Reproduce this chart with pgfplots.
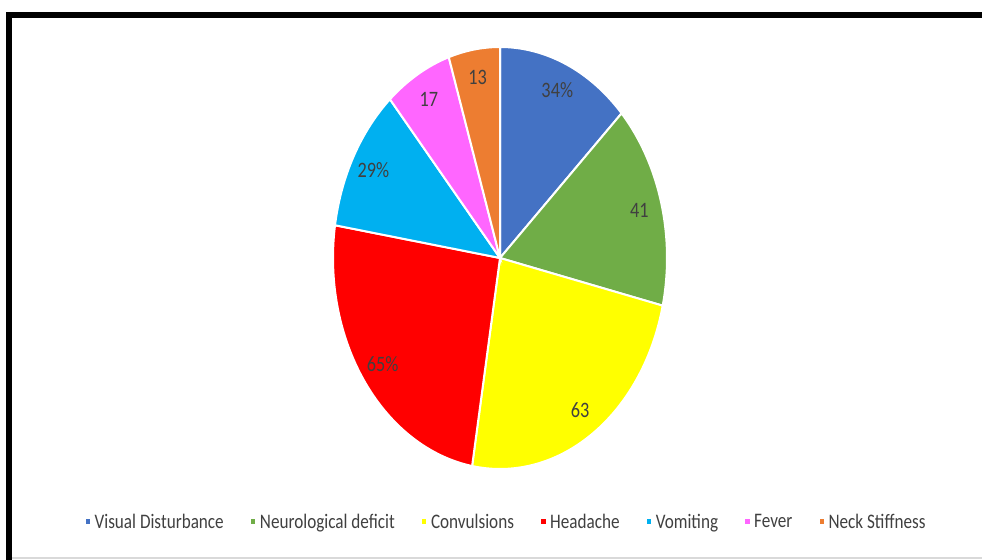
\documentclass[border=0pt]{standalone}
\usepackage{fontspec}
\setmainfont{Carlito}
\newfontfamily\chartfont[FakeStretch=0.83]{Carlito}
\usepackage{pgfplots}
\usepackage{pgfplotstable}
\pgfplotsset{compat=1.18}
\definecolor{cVis}{HTML}{4472C4}
\definecolor{cNeu}{HTML}{70AD47}
\definecolor{cCon}{HTML}{FFFF00}
\definecolor{cHea}{HTML}{FF0000}
\definecolor{cVom}{HTML}{00B0F0}
\definecolor{cFev}{HTML}{FF66FF}
\definecolor{cNec}{HTML}{ED7D31}
\definecolor{textgray}{HTML}{404040}
\pgfplotstableread[col sep=comma]{
name,value,label,color
Visual Disturbance,34,34\%,cVis
Neurological deficit,41,41,cNeu
Convulsions,63,63,cCon
Headache,65,65\%,cHea
Vomiting,29,29\%,cVom
Fever,17,17,cFev
Neck Stiffness,13,13,cNec
}\piedata
\begin{document}
\begin{tikzpicture}
\begin{axis}[
  scale only axis, width=736.5pt, height=420pt,
  xmin=0, xmax=982, ymin=0, ymax=560,
  hide axis, clip=false,
  legend columns=7,
  legend cell align=left,
  legend style={at={(axis cs:506,38)}, anchor=center, draw=none, fill=none,
    font=\chartfont\fontsize{15.5}{17}\selectfont, text=textgray,
    /tikz/every even column/.append style={column sep=17pt},
    /tikz/every odd column/.append style={column sep=0pt}},
  legend image code/.code={\fill[#1] (0pt,-2.6pt) rectangle (4.6pt,2.8pt);},
]
\draw[line width=4.5pt] (axis cs:9,0) -- (axis cs:9,545) -- (axis cs:982,545);
\draw[line width=0.8pt, black!15] (axis cs:12,2) -- (axis cs:982,2);
\def\cum{0}
\pgfplotsforeachungrouped \i in {0,...,6}{%
  \pgfplotstablegetelem{\i}{value}\of\piedata \let\v=\pgfplotsretval
  \pgfplotstablegetelem{\i}{color}\of\piedata \let\c=\pgfplotsretval
  \pgfplotstablegetelem{\i}{name}\of\piedata \let\n=\pgfplotsretval
  \pgfplotstablegetelem{\i}{label}\of\piedata \let\l=\pgfplotsretval
  \pgfmathsetmacro\aS{90-\cum/262*360}%
  \pgfmathsetmacro\cumnew{\cum+\v}%
  \pgfmathsetmacro\aE{90-\cumnew/262*360}%
  \pgfmathsetmacro\aM{(\aS+\aE)/2}%
  \pgfmathsetmacro\xL{500+0.865*167*cos(\aM)}%
  \pgfmathsetmacro\yL{302+0.865*211*sin(\aM)}%
  \global\let\cum\cumnew
  \edef\doplot{%
    \noexpand\addplot[fill=\c, draw=white, line width=1.5pt, domain=\aE:\aS, samples=80, variable=\noexpand\t]
      ({500+167*cos(\noexpand\t)},{302+211*sin(\noexpand\t)}) -- (axis cs:500,302) -- cycle;
    \noexpand\addlegendentry{\n}
    \noexpand\node[text=textgray, font=\noexpand\chartfont\noexpand\fontsize{16.5}{18}\noexpand\selectfont] at (axis cs:\xL,\yL) {\l};
  }%
  \doplot
}
\end{axis}
\pgfresetboundingbox
\path (0,0) rectangle (736.5pt,420pt);
\end{tikzpicture}
\end{document}
